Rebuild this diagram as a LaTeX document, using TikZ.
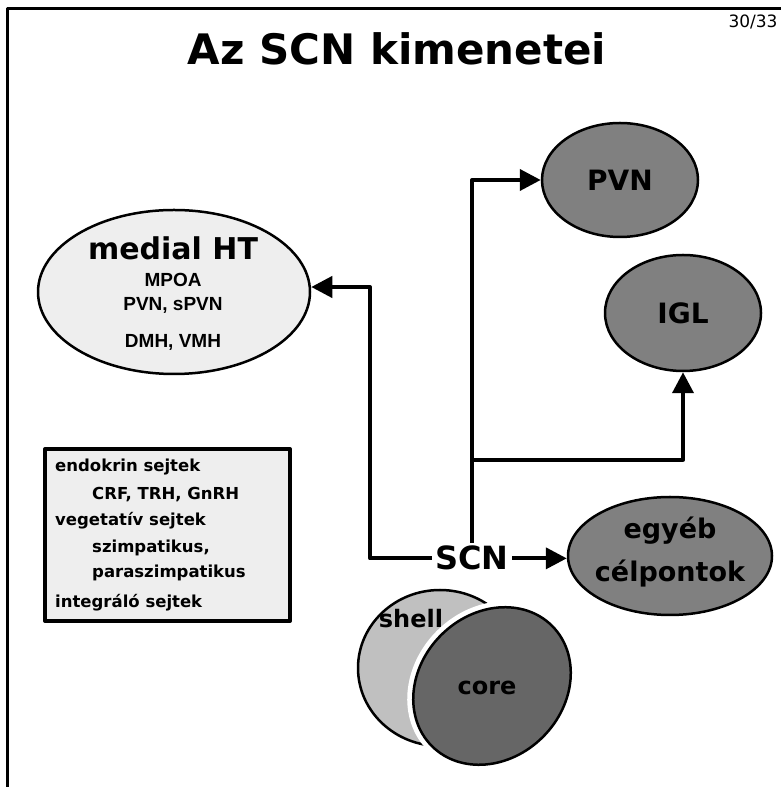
\documentclass[tikz,border=0pt]{standalone}
\usepackage{fontspec}
\setmainfont{DejaVu Sans}
\setsansfont{Liberation Sans}
\usetikzlibrary{shapes.geometric,arrows.meta}
\definecolor{lightfill}{HTML}{EEEEEE}
\definecolor{midgray}{HTML}{808080}
\definecolor{shellgray}{HTML}{C0C0C0}
\definecolor{coregray}{HTML}{666666}
\newcommand\fsz[1]{\fontsize{#1}{#1}\selectfont}
\begin{document}
\begin{tikzpicture}[x=1pt,y=1pt,line join=round,
  conn/.style={line width=4pt,-{Triangle[length=21pt,width=21pt]}},
  gnode/.style={ellipse,draw,line width=2.5pt,fill=midgray,inner sep=0pt,font=\bfseries\fsz{28}},
  legtext/.style={anchor=base west,inner sep=0pt,font=\bfseries\fsz{16.5}},
  subtext/.style={anchor=base,inner sep=0pt,font=\sffamily\bfseries\fsz{19}},
  egytext/.style={anchor=base,inner sep=0pt,font=\bfseries\fsz{27}}]
\useasboundingbox (0,0) rectangle (781,787);
% frame
\draw[line width=3pt] (7,0) -- (7,778) -- (781,778);
\node[anchor=base,inner sep=0pt,font=\fsz{17}] (page) at (753,759) {30/33};
\node[anchor=base,inner sep=0pt,font=\bfseries\fsz{42}] (title) at (397,722) {Az SCN kimenetei};
% medial HT
\node[ellipse,draw,line width=2.5pt,fill=lightfill,minimum width=272pt,minimum height=164pt,inner sep=0pt] (mht) at (174,495) {};
\node[anchor=base,inner sep=0pt,font=\bfseries\fsz{30}] (mhtt) at (173,527) {medial HT};
\node[subtext] (mpoa) at (173,500) {MPOA};
\node[subtext] (pvns) at (173,476) {PVN, sPVN};
\node[subtext] (dmh) at (173,439) {DMH, VMH};
% legend box
\node[draw,line width=4pt,fill=lightfill,minimum width=245pt,minimum height=172pt,inner sep=0pt] (legend) at (167.5,252) {};
\node[legtext] (l1) at (55,315) {endokrin sejtek};
\node[legtext] (l2) at (92,287) {CRF, TRH, GnRH};
\node[legtext] (l3) at (55,261) {vegetatív sejtek};
\node[legtext] (l4) at (92,234) {szimpatikus,};
\node[legtext] (l5) at (92,209) {paraszimpatikus};
\node[legtext] (l6) at (55,179) {integráló sejtek};
% target ellipses
\node[gnode,minimum width=156pt,minimum height=114pt] (pvn) at (620,607) {PVN};
\node[gnode,minimum width=156pt,minimum height=116pt] (igl) at (683,474) {IGL};
\node[gnode,minimum width=204pt,minimum height=118pt] (egy) at (670,231) {};
\node[egytext] (egy1) at (670,248) {egyéb};
\node[egytext] (egy2) at (670,205) {célpontok};
% SCN
\node[anchor=base,font=\bfseries\fsz{32}] (scn) at (472,217) {SCN};
% connectors
\coordinate (bendL) at (370,500);
\draw[conn] (scn.west) -| (bendL) -- (mht.east |- bendL);
\coordinate (bendP) at (scn.north |- pvn.west);
\draw[conn] (scn.north) -- (bendP) -- (pvn.west);
\coordinate (branch) at ([yshift=83pt]scn.north);
\draw[conn] (branch) -| (igl.south);
\draw[conn] (scn.east) -- (scn.east -| egy.west);
% shell and core
\node[ellipse,draw,line width=2.5pt,fill=shellgray,minimum width=164pt,minimum height=156pt,inner sep=0pt] (shell) at (440,119) {};
\node[inner sep=0pt,font=\bfseries\fsz{24}] (shellt) at (411,168) {shell};
\node[ellipse,rotate=45,draw=white,line width=12pt,minimum width=170pt,minimum height=144pt,inner sep=0pt] (coregap) at (492,101) {};
\node[ellipse,rotate=45,draw,line width=2.5pt,fill=coregray,minimum width=170pt,minimum height=144pt,inner sep=0pt] (core) at (492,101) {};
\node[inner sep=0pt,font=\bfseries\fsz{24}] (coret) at (487,99) {core};
\end{tikzpicture}
\end{document}
